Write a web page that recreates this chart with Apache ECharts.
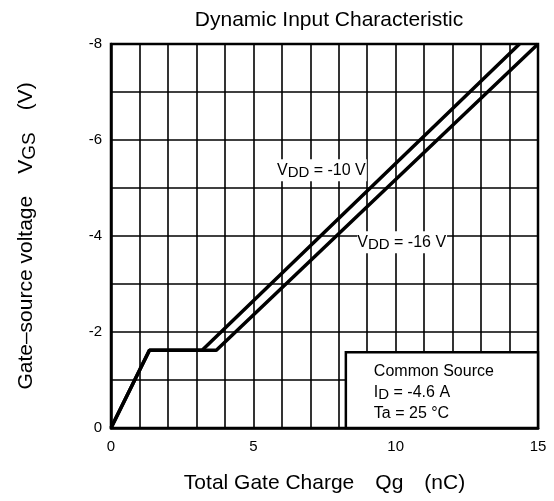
<!DOCTYPE html>
<html>
<head>
<meta charset="utf-8">
<script src="https://cdn.jsdelivr.net/npm/echarts@6/dist/echarts.min.js"></script>
<style>
html, body { margin: 0; padding: 0; background: #fff; }
#main { width: 554px; height: 501px; }
</style>
</head>
<body>
<div id="main"></div>
<script>
// curve data (Qg in nC, VGS in V)
var qg10 = [0, 1.35, 3.2, 14.35];
var vgs10 = [0, -1.62, -1.62, -8];
var qg16 = [0, 1.35, 3.7, 15];
var vgs16 = [0, -1.62, -1.62, -8];

var xTicks = [0, 5, 10, 15];
var yTicks = [-8, -6, -4, -2, 0];

var FONT = "'Liberation Sans', Arial, sans-serif";

function pairs(xs, ys) {
    var out = [];
    for (var i = 0; i < xs.length; i++) {
        out.push([xs[i], ys[i]]);
    }
    return out;
}

var myChart = echarts.init(document.getElementById('main'));

var option = {
    backgroundColor: '#fff',
    animation: false,
    title: {
        text: 'Dynamic Input Characteristic',
        left: 324,
        textAlign: 'center',
        top: 5,
        textStyle: { fontFamily: FONT, fontSize: 21, fontWeight: 'normal', color: '#000' }
    },
    grid: {
        left: 111, top: 44, right: 16, bottom: 73,
        show: true, borderColor: '#000', borderWidth: 2.5, backgroundColor: 'transparent'
    },
    xAxis: {
        type: 'value', min: 0, max: 15, interval: 1,
        axisLine: { show: true, lineStyle: { color: '#000', width: 2.5 } },
        axisTick: { show: false },
        axisLabel: {
            color: '#000', fontFamily: FONT, fontSize: 15, margin: 11,
            formatter: function (v) { return xTicks.indexOf(v) >= 0 ? String(v) : ''; }
        },
        splitLine: { show: true, lineStyle: { color: '#000', width: 1.6 } },
        name: '{a|Total Gate Charge}{g|}{a|Qg}{g|}{a|(nC)}',
        nameLocation: 'middle',
        nameGap: 45,
        nameTextStyle: {
            rich: {
                a: { fontFamily: FONT, fontSize: 21, color: '#000' },
                g: { width: 21 }
            }
        }
    },
    yAxis: {
        type: 'value', min: -8, max: 0, interval: 1, inverse: true,
        axisLine: { show: true, lineStyle: { color: '#000', width: 2.5 } },
        axisTick: { show: false },
        axisLabel: {
            color: '#000', fontFamily: FONT, fontSize: 15, margin: 9,
            padding: [6, 0, 0, 0],
            formatter: function (v) { return yTicks.indexOf(v) >= 0 ? String(v) : ''; }
        },
        splitLine: { show: true, lineStyle: { color: '#000', width: 1.6 } },
        name: '{a|Gate\u2013source voltage}{g|}{a|V}{s|GS}{g|}{a|(V)}',
        nameLocation: 'middle',
        nameGap: 72,
        nameTextStyle: {
            rich: {
                a: { fontFamily: FONT, fontSize: 21, color: '#000', lineHeight: 26 },
                s: { fontFamily: FONT, fontSize: 19, color: '#000', lineHeight: 26, padding: [7, 0, 0, 0] },
                g: { width: 22 }
            }
        }
    },
    series: [{
        name: 'VDD = -10 V',
        type: 'line',
        data: pairs(qg10, vgs10),
        symbol: 'none',
        lineStyle: { color: '#000', width: 3.5 },
        z: 5
    }, {
        name: 'VDD = -16 V',
        type: 'line',
        data: pairs(qg16, vgs16),
        symbol: 'none',
        lineStyle: { color: '#000', width: 3.5 },
        z: 5
    }]
};
myChart.setOption(option);

// annotation anchors in data space
var lbl10At = [5.83, -5.37];
var lbl16At = [8.65, -3.87];
var boxFrom = [8.25, -1.58];
var boxTo = [15, 0];

var p10 = myChart.convertToPixel({ gridIndex: 0 }, lbl10At);
var p16 = myChart.convertToPixel({ gridIndex: 0 }, lbl16At);
var b0 = myChart.convertToPixel({ gridIndex: 0 }, boxFrom);
var b1 = myChart.convertToPixel({ gridIndex: 0 }, boxTo);

var subRich = {
    a: { fontFamily: FONT, fontSize: 16, color: '#000', lineHeight: 21 },
    s: { fontFamily: FONT, fontSize: 15, color: '#000', lineHeight: 21, padding: [5, 0, 0, 0] }
};

myChart.setOption({
    graphic: [{
        type: 'text', z: 20,
        style: {
            x: p10[0], y: p10[1], text: '{a|V}{s|DD}{a| = -10 V}', rich: subRich,
            verticalAlign: 'middle', align: 'left',
            backgroundColor: '#fff', padding: [1, 1, 0, 0]
        }
    }, {
        type: 'text', z: 20,
        style: {
            x: p16[0], y: p16[1], text: '{a|V}{s|DD}{a| = -16 V}', rich: subRich,
            verticalAlign: 'middle', align: 'left',
            backgroundColor: '#fff', padding: [1, 1, 0, 0]
        }
    }, {
        type: 'rect', z: 20,
        shape: { x: b0[0], y: b0[1], width: b1[0] - b0[0], height: b1[1] - b0[1] },
        style: { fill: '#fff', stroke: '#000', lineWidth: 2.5 }
    }, {
        type: 'text', z: 21,
        style: {
            x: b0[0] + 28, y: b0[1] + 9,
            text: '{a|Common Source}\n{a|I}{s|D}{a| = -4.6 A}\n{a|Ta = 25 \u00b0C}',
            rich: subRich,
            align: 'left', verticalAlign: 'top'
        }
    }]
});
</script>
</body>
</html>
